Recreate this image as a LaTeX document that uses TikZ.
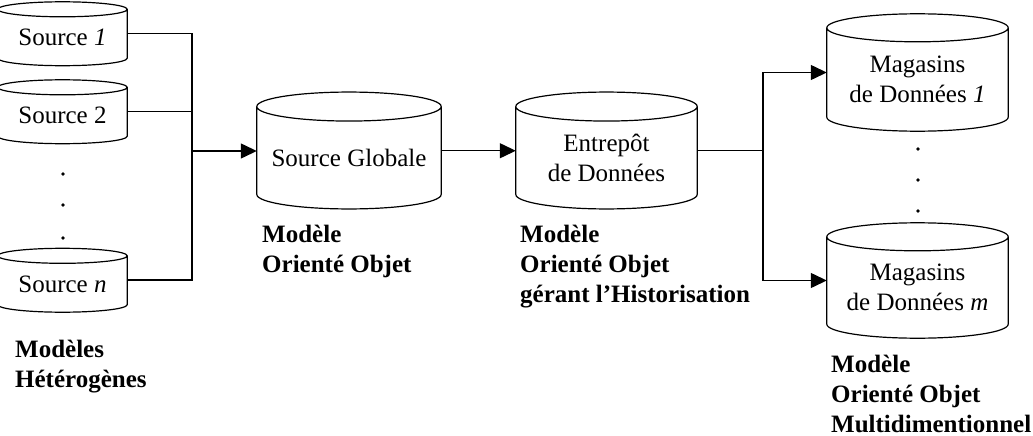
\documentclass[tikz,border=0pt]{standalone}
\usepackage{fontspec}
\setmainfont{Liberation Serif}
\usetikzlibrary{arrows.meta,calc}
\newcommand\cylout[2]{%
  \draw[cyl] let \p1=(#1.west), \p2=(#1.east), \n1={(\x2-\x1)/2} in
    (#1.north) ellipse[x radius=\n1, y radius=#2pt]
    (#1.north west) -- ([yshift=#2pt]#1.south west)
    arc[start angle=180,end angle=360,x radius=\n1,y radius=#2pt]
    -- (#1.north east);}
\begin{document}
\begin{tikzpicture}[x=1pt,y=-1pt,
  every node/.style={font=\fontsize{25}{30}\selectfont},
  db/.style={rectangle,draw=none,inner sep=0pt,align=center},
  srcdb/.style={db,minimum width=129pt,minimum height=56pt},
  bigdb/.style={db,minimum width=182pt,minimum height=102pt},
  cyl/.style={line width=1.2pt,black},
  conn/.style={line width=1.3pt,black},
  arr/.style={conn,-{Triangle[length=16pt,width=15pt]}},
  lbl/.style={anchor=base west,inner sep=0pt,align=left,font=\fontsize{25}{30}\selectfont\bfseries},
  dotc/.style={circle,fill=black,inner sep=0pt,minimum size=3.6pt}]
\useasboundingbox (0,0) rectangle (1033,436);
% sources
\node[srcdb] (s1) at (62.5,37.5) {Source \textit{1}};
\node[srcdb] (s2) at (62.5,115.5) {Source 2};
\node[srcdb] (sn) at (62.5,284) {Source \textit{n}};
\cylout{s1}{7.5}
\cylout{s2}{7.5}
\cylout{sn}{7.5}
\node[dotc] (d1) at (63,174) {};
\node[dotc] (d2) at (63,205) {};
\node[dotc] (d3) at (63,238) {};
% central
\node[bigdb,minimum width=184pt] (sg) at (349,157.75) {Source Globale};
\node[bigdb,minimum width=181pt] (ed) at (606.5,157.75) {Entrepôt\\de Données};
\cylout{sg}{14.5}
\cylout{ed}{14.5}
% marts
\node[bigdb,minimum width=181pt,minimum height=103pt] (m1) at (917.5,79.5) {Magasins\\de Données \textit{1}};
\node[bigdb,minimum width=181pt,minimum height=101pt] (mm) at (917.5,287.5) {Magasins\\de Données \textit{m}};
\cylout{m1}{14}
\cylout{mm}{14}
\node[dotc] (d4) at (918,149) {};
\node[dotc] (d5) at (918,180) {};
\node[dotc] (d6) at (918,211) {};
% connectors
\coordinate (jl) at (192,151);
\coordinate (jr) at (763,150.75);
\draw[conn] ([yshift=4pt]s1.east) -| (jl) |- ([yshift=4pt]sn.east);
\draw[conn] ([yshift=4pt]s2.east) -| (jl);
\draw[arr] (jl) -- (sg.west |- jl);
\draw[arr] ([yshift=7pt]sg.east) -- ([yshift=7pt]ed.west);
\draw[conn] ([yshift=7pt]ed.east) -- (jr);
\draw[arr] (jr) |- ([yshift=7pt]m1.west);
\draw[arr] (jr) |- ([yshift=7pt]mm.west);
% labels (base = baseline of last line)
\node[lbl] (l1) at (15,387) {Modèles\\Hétérogènes};
\node[lbl] (l2) at (262,272) {Modèle\\Orienté Objet};
\node[lbl] (l3) at (520,302) {Modèle\\Orienté Objet\\gérant l’Historisation};
\node[lbl] (l4) at (831,432) {Modèle\\Orienté Objet\\Multidimentionnel};
\end{tikzpicture}
\end{document}
